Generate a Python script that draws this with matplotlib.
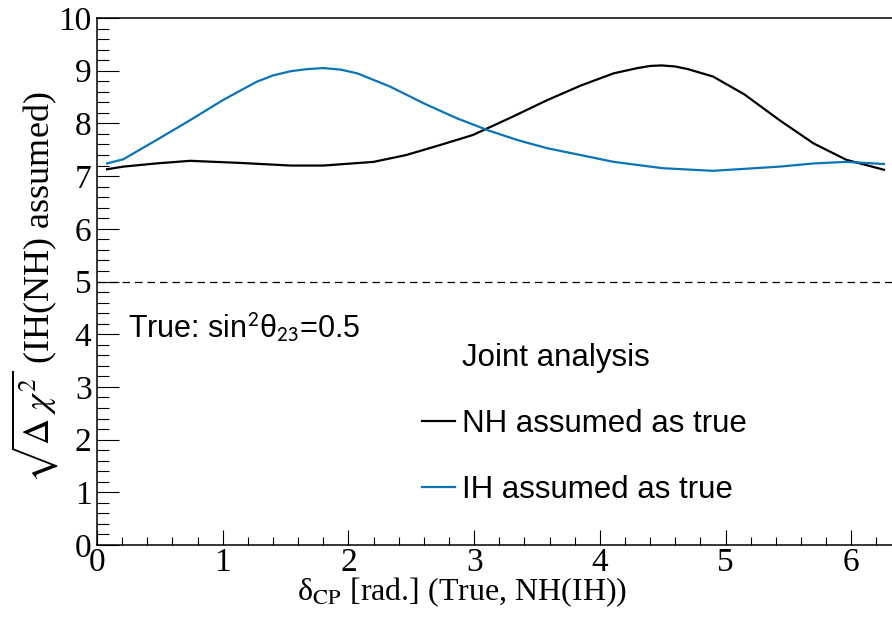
import matplotlib
matplotlib.use('Agg')
import matplotlib.pyplot as plt
from matplotlib.lines import Line2D
from matplotlib.ticker import MultipleLocator

# delta_CP (true) values and sqrt(delta chi2)
nh_x = [0.08, 0.21, 0.47, 0.74, 1.14, 1.54, 1.80, 2.20, 2.46, 2.73, 2.99, 3.30,
        3.58, 3.85, 4.11, 4.30, 4.40, 4.49, 4.60, 4.70, 4.90, 5.15, 5.43, 5.70,
        5.96, 6.26]
nh_y = [7.13, 7.18, 7.24, 7.29, 7.25, 7.20, 7.20, 7.27, 7.40, 7.59, 7.78, 8.12,
        8.44, 8.72, 8.95, 9.05, 9.09, 9.10, 9.08, 9.03, 8.89, 8.55, 8.06, 7.62,
        7.31, 7.12]

ih_x = [0.08, 0.21, 0.47, 0.74, 1.00, 1.27, 1.40, 1.54, 1.67, 1.80, 1.94, 2.07,
        2.33, 2.60, 2.86, 3.11, 3.35, 3.58, 4.11, 4.50, 4.90, 5.43, 5.70, 5.96,
        6.26]
ih_y = [7.24, 7.32, 7.68, 8.06, 8.44, 8.79, 8.91, 8.99, 9.03, 9.05, 9.02, 8.95,
        8.70, 8.38, 8.10, 7.87, 7.68, 7.53, 7.27, 7.15, 7.10, 7.18, 7.24, 7.27,
        7.23]

threshold = 5.0
labels = ['Joint analysis', 'NH assumed as true', 'IH assumed as true']

plt.rcParams['font.family'] = ['Liberation Serif', 'DejaVu Serif']
plt.rcParams['mathtext.fontset'] = 'stix'

fig = plt.figure(figsize=(8.92, 6.24), dpi=100)
ax = fig.add_axes([97/892, 1 - 545/624, 1 - 97/892, (545 - 18)/624])

nh_line, = ax.plot(nh_x, nh_y, color='black', lw=1.6)
ih_line, = ax.plot(ih_x, ih_y, color='#0a74b6', lw=1.6)
ax.axhline(threshold, color='black', lw=0.9, ls=(0, (6, 4)))

ax.set_xlim(0, 6.324)
ax.set_ylim(0, 10)

ax.xaxis.set_major_locator(MultipleLocator(1))
ax.xaxis.set_minor_locator(MultipleLocator(0.2))
ax.yaxis.set_major_locator(MultipleLocator(1))
ax.yaxis.set_minor_locator(MultipleLocator(0.2))
ax.tick_params(axis='both', which='both', direction='in', labelsize=24, width=0.8)
ax.tick_params(axis='y', which='major', length=16, pad=4)
ax.tick_params(axis='y', which='minor', length=8.5)
ax.tick_params(axis='x', which='major', length=11, pad=2)
ax.tick_params(axis='x', which='minor', length=5.5)
ax.spines['right'].set_visible(False)
for s in ['left', 'bottom', 'top']:
    ax.spines[s].set_linewidth(1.1)

ax.set_xlabel('δ$_{\\mathrm{CP}}$ [rad.] (True, NH(IH))', fontsize=23)
ax.set_ylabel(r'$\sqrt{\Delta\ \chi^2}$ (IH(NH) assumed)', fontsize=26)
ax.xaxis.set_label_coords(0.459, -0.058)
ax.yaxis.set_label_coords(-0.047, 0.49)

ax.text(0.247, 4.12, 'True: sin$^{\\mathsf{2}}$θ$_{\\mathsf{23}}$=0.5', fontsize=22,
        family=['Liberation Sans', 'DejaVu Sans'], va='center', ha='left')

blank = Line2D([], [], color='none')
ax.legend([blank, nh_line, ih_line], labels, loc='center left',
          bbox_to_anchor=((422 - 97)/795, (545 - 424)/527), frameon=False,
          borderpad=0, borderaxespad=0, handlelength=1.07, handletextpad=0.22,
          labelspacing=1.14, prop={'family': 'Liberation Sans', 'size': 22.5})

fig.savefig('out.png', dpi=100)
